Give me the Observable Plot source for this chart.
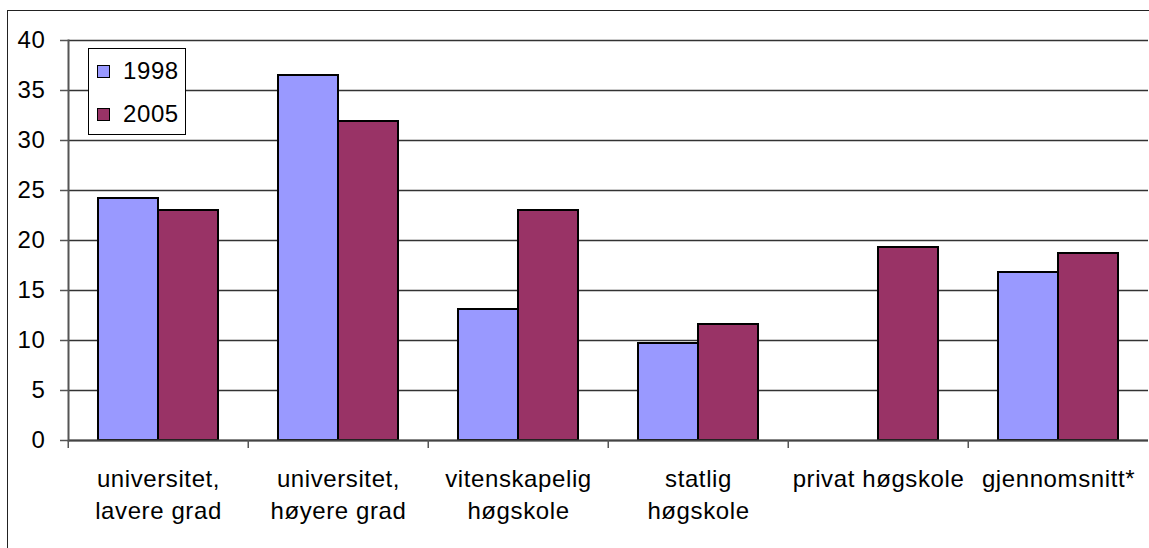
<!DOCTYPE html>
<html><head><meta charset="utf-8">
<script src="https://cdn.jsdelivr.net/npm/d3@7"></script>
<script src="https://cdn.jsdelivr.net/npm/@observablehq/plot@0.6"></script>
<style>
html,body{margin:0;padding:0;background:#fff;overflow:hidden;}
#wrap{position:relative;width:1149px;height:548px;font-family:"Liberation Sans",Arial,sans-serif;}
#border{position:absolute;left:7px;top:10px;width:1200px;height:600px;border-left:1.5px solid #222;border-top:1.5px solid #222;pointer-events:none;}
#legend{position:absolute;left:88px;top:48px;width:98px;height:87px;border:1px solid #000;background:#fff;box-sizing:border-box;}
.item{position:absolute;left:8px;height:24px;display:flex;align-items:center;font-size:24px;line-height:24px;letter-spacing:0.6px;color:#000;}
.sw{width:11px;height:11px;border:1.5px solid #000;margin-right:13px;}
</style></head><body><div id="wrap"></div>
<script>
const categories = ["universitet,\nlavere grad", "universitet,\nhøyere grad", "vitenskapelig\nhøgskole", "statlig\nhøgskole", "privat høgskole", "gjennomsnitt*"];
const years = ["1998", "2005"];
const values1998 = [24.2, 36.5, 13.1, 9.7, null, 16.8];
const values2005 = [23.0, 31.9, 23.0, 11.6, 19.3, 18.7];
const colors = ["#9999FF", "#993366"];
const yTicks = [0, 5, 10, 15, 20, 25, 30, 35, 40];

const data = [];
categories.forEach((c, i) => {
  if (values1998[i] != null) data.push({category: c, year: years[0], value: values1998[i]});
  if (values2005[i] != null) data.push({category: c, year: years[1], value: values2005[i]});
});

const W = 1149, H = 548, mL = 66, mR = 0, mT = 40, mB = 108;
const half = (W - mL - mR) / categories.length / 2;

const plot = Plot.plot({
  width: W, height: H,
  marginLeft: mL, marginRight: mR, marginTop: mT, marginBottom: mB,
  style: {fontFamily: "Liberation Sans, Arial, sans-serif", fontSize: "24px", color: "#000", background: "transparent", letterSpacing: "0.6px", overflow: "visible"},
  fx: {domain: categories, padding: 0, label: null},
  x: {domain: years, paddingInner: 0, paddingOuter: 0.5, axis: null},
  y: {domain: [0, 40], label: null},
  color: {domain: years, range: colors},
  marks: [
    Plot.gridY(yTicks, {stroke: "#333", strokeOpacity: 1, strokeWidth: 1.5}),
    Plot.barY(data, {fx: "category", x: "year", y: "value", fill: "year", stroke: "#000", strokeWidth: 2}),
    Plot.ruleY([0], {stroke: "#444", strokeWidth: 2}),
    Plot.frame({anchor: "left", facet: "super", stroke: "#555", strokeWidth: 2}),
    Plot.axisY(yTicks, {tickSize: 8, tickPadding: 15, stroke: "#555", fill: "#000", strokeWidth: 1.5}),
    Plot.axisFx({anchor: "bottom", tickSize: 8, text: null, dx: -half, stroke: "#555", strokeWidth: 1.5}),
    Plot.axisFx({anchor: "bottom", tickSize: 0, tickPadding: 24, lineHeight: 1.33, fill: "#000"})
  ]
});

const wrap = document.getElementById("wrap");
wrap.appendChild(plot);
const border = document.createElement("div");
border.id = "border";
wrap.appendChild(border);

const color = plot.scale("color");
const legend = document.createElement("div");
legend.id = "legend";
years.forEach((y, i) => {
  const item = document.createElement("div");
  item.className = "item";
  item.style.top = (i === 0 ? 10 : 53) + "px";
  const sw = document.createElement("div");
  sw.className = "sw";
  sw.style.background = color.apply(y);
  item.appendChild(sw);
  item.appendChild(document.createTextNode(y));
  legend.appendChild(item);
});
wrap.appendChild(legend);
</script></body></html>
